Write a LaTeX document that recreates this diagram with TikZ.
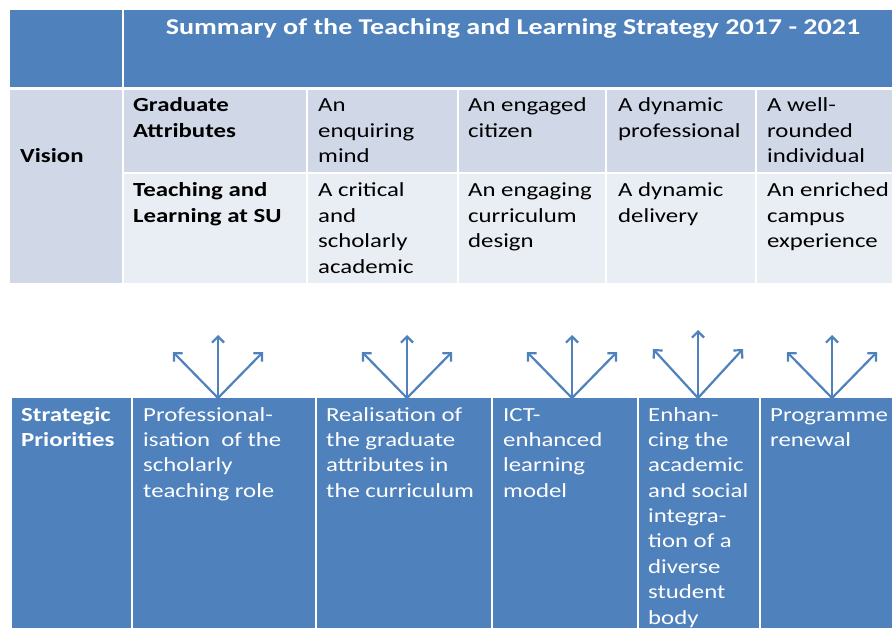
\documentclass[tikz,border=0pt]{standalone}
\usepackage{fontspec}
\setmainfont{Carlito}[FakeStretch=1.24]
\usetikzlibrary{arrows.meta}
\definecolor{hdr}{HTML}{4F81BD}
\definecolor{rowA}{HTML}{D0D8E8}
\definecolor{rowB}{HTML}{E9EDF4}
\newcommand\mlines[1]{\begin{tabular}[t]{@{}l@{}}#1\end{tabular}}
\tikzset{
  txt/.style={anchor=base west, inner sep=0pt, font=\fontsize{20}{25.4}\selectfont},
  btxt/.style={anchor=base west, inner sep=0pt, font=\fontsize{20}{25.4}\selectfont\bfseries},
  wtxt/.style={txt, text=white},
  bwtxt/.style={btxt, text=white},
  arr/.style={draw=hdr, line width=2.2pt, -{Straight Barb[length=6pt,width=12pt]}}
}
\begin{document}
\begin{tikzpicture}[x=1pt,y=-1pt]
\useasboundingbox (0,0) rectangle (892,628);
\clip (0,0) rectangle (892,628);
\fill[white] (0,0) rectangle (892,628);
% top table
\fill[hdr] (10,10) rectangle (122,87);
\fill[hdr] (124,10) rectangle (900,87);
\fill[rowA] (10,90) rectangle (122,283);
\foreach \a/\b in {124/306,308/457,459/605,607/755,757/900}{
  \fill[rowA] (\a,90) rectangle (\b,172);
  \fill[rowB] (\a,174) rectangle (\b,283);
}
% bottom table
\foreach \a/\b in {12/131,133/315,317/491,493/637,639/759,761/900}{
  \fill[hdr] (\a,398) rectangle (\b,640);
}
% texts
\node[font=\fontsize{22.6}{26}\selectfont\bfseries, text=white, anchor=base, inner sep=0pt] (title) at (513,35) {Summary of the Teaching and Learning Strategy 2017 - 2021};
\node[btxt] (vision) at (20,163) {Vision};
\node[btxt] (ga) at (133,112) {\mlines{Graduate\\Attributes}};
\node[btxt] (tl) at (133,197) {\mlines{Teaching and\\Learning at SU}};
\node[txt] (a1) at (318,112) {\mlines{An\\enquiring\\mind}};
\node[txt] (a2) at (468,112) {\mlines{An engaged\\citizen}};
\node[txt] (a3) at (618,112) {\mlines{A dynamic\\professional}};
\node[txt] (a4) at (767,112) {\mlines{A well-\\rounded\\individual}};
\node[txt] (b1) at (318,197) {\mlines{A critical\\and\\scholarly\\academic}};
\node[txt] (b2) at (468,197) {\mlines{An engaging\\curriculum\\design}};
\node[txt] (b3) at (618,197) {\mlines{A dynamic\\delivery}};
\node[txt] (b4) at (767,197) {\mlines{An enriched\\campus\\experience}};
\node[bwtxt] (sp) at (21,421) {\mlines{Strategic\\Priorities}};
\node[wtxt] (p1) at (143,421) {\mlines{Professional-\\isation\ \ of the\\scholarly\\teaching role}};
\node[wtxt] (p2) at (326,421) {\mlines{Realisation of\\the graduate\\attributes in\\the curriculum}};
\node[wtxt] (p3) at (503,421) {\mlines{ICT-\\enhanced\\learning\\model}};
\node[wtxt] (p4) at (648,421) {\mlines{Enhan-\\cing the\\academic\\and social\\integra-\\tion of a\\diverse\\student\\body}};
\node[wtxt] (p5) at (770,421) {\mlines{Programme\\renewal}};
% arrows
\foreach \n/\x/\t/\d in {1/218/335/352,2/407/335/352,3/572/335/352,4/698/330/349,5/832/335/352}{
  \coordinate (o\n) at (\x,398);
  \coordinate (u\n) at (\x,\t);
  \coordinate (l\n) at (\x-45,\d);
  \coordinate (r\n) at (\x+45,\d);
  \draw[arr] (o\n) -- (u\n);
  \draw[arr] (o\n) -- (l\n);
  \draw[arr] (o\n) -- (r\n);
}
\end{tikzpicture}
\end{document}
